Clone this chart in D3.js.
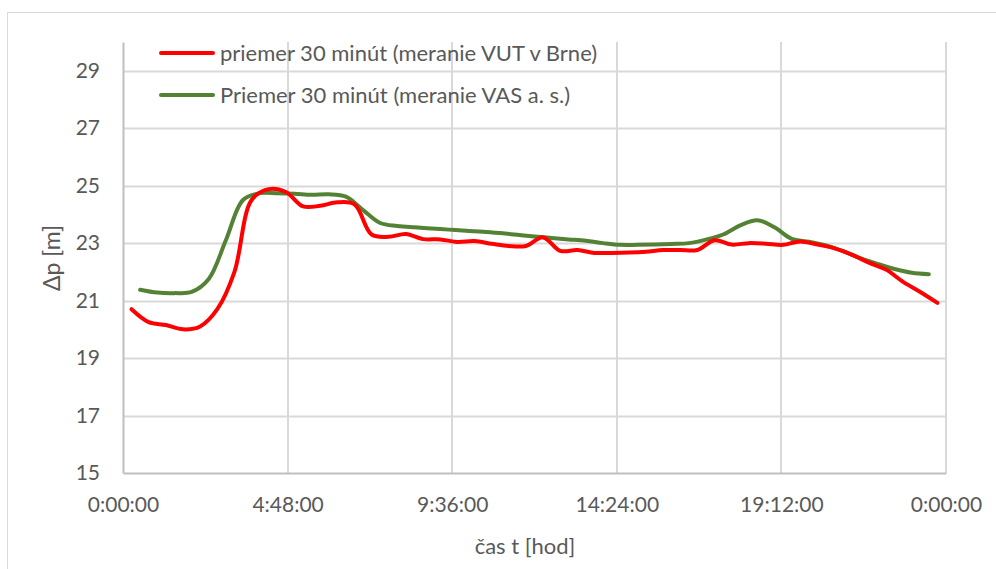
<!DOCTYPE html>
<html>
<head>
<meta charset="utf-8">
<script src="https://cdn.jsdelivr.net/npm/d3@7"></script>
<style>
  body { margin: 0; background: #fff; }
  text { font-family: "Lato", "Open Sans", sans-serif; fill: #595959; }
</style>
</head>
<body>
<svg id="chart" width="996" height="569"></svg>
<script>
// half-hour averages, hours of the day
var redHours = [0.25, 0.75, 1.25, 1.75, 2.25, 2.75, 3.25, 3.75, 4.25, 4.75, 5.25, 5.75,
  6.25, 6.75, 7.25, 7.75, 8.25, 8.75, 9.25, 9.75, 10.25, 10.75, 11.25, 11.75,
  12.25, 12.75, 13.25, 13.75, 14.25, 14.75, 15.25, 15.75, 16.25, 16.75, 17.25, 17.75,
  18.25, 18.75, 19.25, 19.75, 20.25, 20.75, 21.25, 21.75, 22.25, 22.75, 23.25, 23.75];
var redValues = [20.7, 20.25, 20.15, 20.0, 20.1, 20.7, 22.0, 24.5, 24.88, 24.78, 24.28, 24.3,
  24.42, 24.35, 23.3, 23.22, 23.32, 23.14, 23.13, 23.04, 23.07, 22.98, 22.9, 22.9,
  23.2, 22.73, 22.76, 22.66, 22.66, 22.67, 22.7, 22.76, 22.76, 22.76, 23.1, 22.95,
  23.0, 22.98, 22.94, 23.06, 22.95, 22.82, 22.6, 22.32, 22.08, 21.65, 21.3, 20.92];

var greenHours = [0.5, 1, 1.5, 2, 2.5, 3, 3.5, 4, 4.5, 5, 5.5, 6, 6.5, 7, 7.5, 8, 8.5, 9,
  9.5, 10, 10.5, 11, 11.5, 12, 12.5, 13, 13.5, 14, 14.5, 15, 15.5, 16, 16.5, 17, 17.5,
  18, 18.5, 19, 19.5, 20, 20.5, 21, 21.5, 22, 22.5, 23, 23.5];
var greenValues = [21.38, 21.28, 21.26, 21.3, 21.75, 23.1, 24.5, 24.74, 24.74, 24.72, 24.68,
  24.7, 24.62, 24.15, 23.7, 23.6, 23.55, 23.51, 23.47, 23.43, 23.4, 23.35, 23.29, 23.23,
  23.18, 23.13, 23.08, 23.0, 22.94, 22.94, 22.95, 22.97, 23.0, 23.12, 23.3, 23.62, 23.8,
  23.55, 23.15, 23.05, 22.92, 22.72, 22.48, 22.28, 22.1, 21.97, 21.92];

var xTicks = [0, 4.8, 9.6, 14.4, 19.2, 24];
var xTickLabels = ["0:00:00", "4:48:00", "9:36:00", "14:24:00", "19:12:00", "0:00:00"];
var yTicks = [15, 17, 19, 21, 23, 25, 27, 29];

var seriesNames = ["priemer 30 minút (meranie VUT v Brne)", "Priemer 30 minút (meranie VAS a. s.)"];
var seriesColors = ["#ff0000", "#548235"];

var svg = d3.select("#chart");
var margin = { left: 123, right: 50, top: 42, bottom: 96 };
var width = 996 - margin.left - margin.right;
var height = 569 - margin.top - margin.bottom;

// outer chart border
svg.append("rect")
  .attr("x", 7.5).attr("y", 12.5)
  .attr("width", 1000).attr("height", 600)
  .attr("fill", "none").attr("stroke", "#d9d9d9");

var g = svg.append("g").attr("transform", "translate(" + margin.left + "," + margin.top + ")");

var x = d3.scaleLinear().domain([0, 24]).range([0, width]);
var y = d3.scaleLinear().domain([15, 30]).range([height, 0]);

// grid
g.selectAll(".hgrid").data(yTicks.filter(function(d) { return d > 15; }))
  .enter().append("line")
  .attr("x1", 0).attr("x2", width)
  .attr("y1", function(d) { return Math.round(y(d)) + 0.5; })
  .attr("y2", function(d) { return Math.round(y(d)) + 0.5; })
  .attr("stroke", "#d9d9d9").attr("stroke-width", 2);

g.selectAll(".vgrid").data(xTicks.slice(1))
  .enter().append("line")
  .attr("x1", function(d) { return Math.round(x(d)); })
  .attr("x2", function(d) { return Math.round(x(d)); })
  .attr("y1", 0).attr("y2", height)
  .attr("stroke", "#d9d9d9").attr("stroke-width", 2);

// axes
var yAxis = d3.axisLeft(y).tickValues(yTicks).tickSize(0).tickPadding(23);
var gy = g.append("g").call(yAxis);
gy.select(".domain").attr("stroke", "#bfbfbf").attr("stroke-width", 2);
gy.selectAll("text").attr("font-size", 21).style("fill", "#595959");

var xAxis = d3.axisBottom(x).tickValues(xTicks)
  .tickFormat(function(d, i) { return xTickLabels[i]; })
  .tickSize(0).tickPadding(24);
var gx = g.append("g").attr("transform", "translate(0," + height + ")").call(xAxis);
gx.select(".domain").attr("stroke", "#bfbfbf").attr("stroke-width", 2);
gx.selectAll("text").attr("font-size", 21).style("fill", "#595959");

// lines
var line = d3.line()
  .x(function(d) { return x(d[0]); })
  .y(function(d) { return y(d[1]); })
  .curve(d3.curveCatmullRom.alpha(0.5));

var redData = redHours.map(function(h, i) { return [h, redValues[i]]; });
var greenData = greenHours.map(function(h, i) { return [h, greenValues[i]]; });

g.append("path").datum(greenData)
  .attr("d", line).attr("fill", "none")
  .attr("stroke", seriesColors[1]).attr("stroke-width", 4).attr("stroke-linecap", "round");
g.append("path").datum(redData)
  .attr("d", line).attr("fill", "none")
  .attr("stroke", seriesColors[0]).attr("stroke-width", 4).attr("stroke-linecap", "round");

// legend
var legend = svg.append("g").attr("transform", "translate(161,53)");
seriesNames.forEach(function(name, i) {
  var row = legend.append("g").attr("transform", "translate(0," + (i * 42) + ")");
  row.append("line").attr("x1", 0).attr("x2", 52).attr("y1", 0).attr("y2", 0)
    .attr("stroke", seriesColors[i]).attr("stroke-width", 4).attr("stroke-linecap", "round");
  row.append("text").attr("x", 59).attr("y", 8).attr("font-size", 22).text(name);
});

// axis titles
svg.append("text")
  .attr("transform", "translate(60,258) rotate(-90)")
  .attr("text-anchor", "middle").attr("font-size", 23).text("Δp [m]");
svg.append("text")
  .attr("x", 525).attr("y", 554)
  .attr("text-anchor", "middle").attr("font-size", 22).text("čas t [hod]");
</script>
</body>
</html>
